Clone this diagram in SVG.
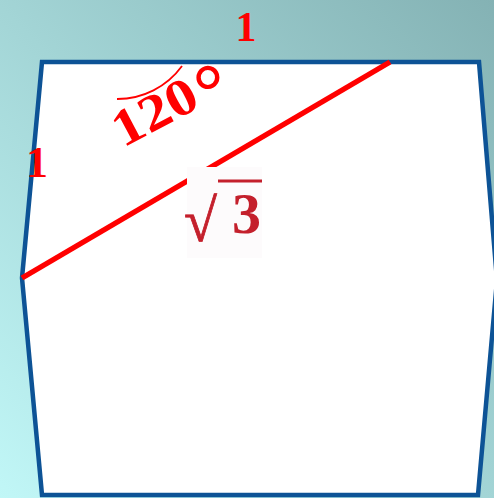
<svg xmlns="http://www.w3.org/2000/svg" width="494" height="498" viewBox="0 0 494 498">
<defs>
<linearGradient id="bg" x1="1" y1="0" x2="0" y2="1">
<stop offset="0" stop-color="#84b2b4"/>
<stop offset="1" stop-color="#c1f7f7"/>
</linearGradient>
<style>
.num{font-family:"Liberation Serif","Times New Roman",serif;font-weight:bold;fill:#ff0000}
.rad{font-family:"Liberation Serif","Times New Roman",serif;fill:#c4202c}
</style>
</defs>
<rect x="0" y="0" width="494" height="498" fill="url(#bg)"/>
<g id="shape">
<polygon points="42,62 479,62 497,280 478,495 42,495 22,278" fill="#ffffff" stroke="#0d5396" stroke-width="4.5" stroke-linejoin="miter"/>
</g>
<g id="connectors">
<line x1="22" y1="278" x2="390" y2="62" stroke="#ff0000" stroke-width="5.5"/>
<path d="M182,66 A80,80 0 0 1 117,99" fill="none" stroke="#ff0000" stroke-width="1.8"/>
</g>
<g id="labels">
<text class="num" x="246" y="41" font-size="42" text-anchor="middle">1</text>
<text class="num" x="37" y="177" font-size="44" text-anchor="middle">1</text>
<text class="num" font-size="52" transform="translate(123,148) rotate(-28) scale(1.15,1)">120</text>
<text class="num" x="208" y="117" font-size="76" text-anchor="middle">°</text>
</g>
<g id="sqrt3">
<rect x="187" y="167" width="75" height="91" fill="#fdfbfc"/>
<text class="rad" x="184" y="241" font-size="60" stroke="#c4202c" stroke-width="0.8">√</text>
<line x1="218" y1="181" x2="262" y2="181" stroke="#c4202c" stroke-width="3"/>
<text class="rad" x="232" y="233" font-size="58" font-weight="bold">3</text>
</g>
</svg>
